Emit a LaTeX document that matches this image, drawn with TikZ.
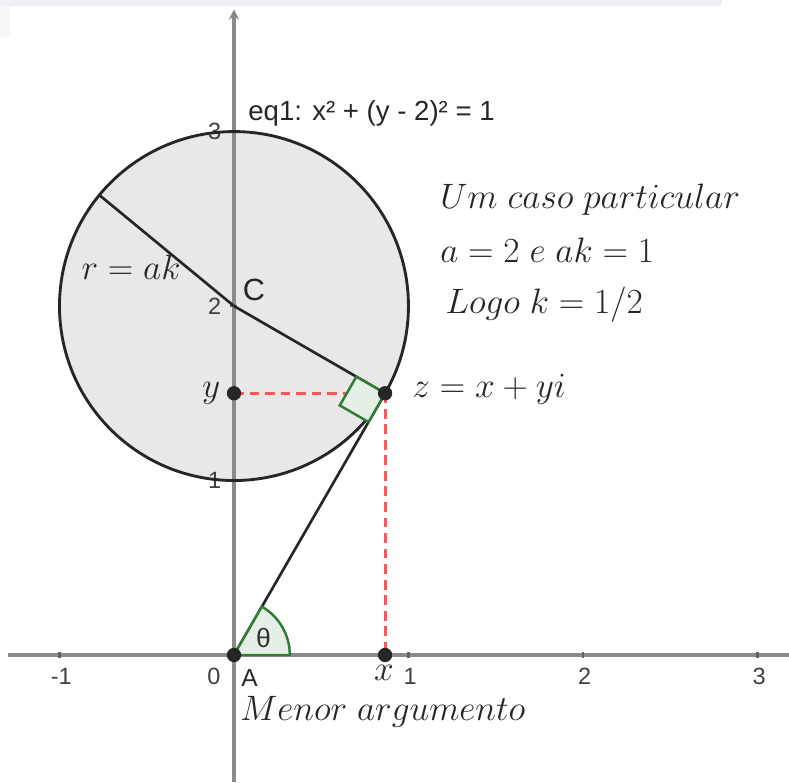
\documentclass[tikz,border=0pt]{standalone}
\usepackage{fontspec}
\newfontfamily\geofont{Liberation Sans}
\usetikzlibrary{arrows.meta, calc}
\definecolor{axisgray}{HTML}{8A8A8A}
\definecolor{discgray}{HTML}{E8E8E8}
\definecolor{geored}{HTML}{FF5555}
\definecolor{geogreen}{HTML}{2E7D32}
\definecolor{stripgray}{HTML}{EEF0F3}

\begin{document}
\begin{tikzpicture}[x=3cm, y=3cm,
        % eixos
        axis/.style={draw=axisgray, line width=1.5pt},
        tick/.style={draw=axisgray!70!black, line width=1.2pt},
        % rótulos dos eixos
        ticklbl/.style={font=\geofont\fontsize{11.5}{13}\selectfont, text=black!75},
        % segmentos e circunferência
        seg/.style={draw=black!85, line width=1.3pt},
        % projeções tracejadas
        proj/.style={draw=geored, line width=1.5pt, dash pattern=on 4.8pt off 2.8pt},
        % marcas de ângulo
        angmark/.style={draw=geogreen, line width=1.2pt, fill=geogreen!12},
        % pontos
        dot/.style={circle, fill=black!85, inner sep=0pt, minimum size=7pt},
        % textos
        mathtxt/.style={font=\fontsize{16}{19}\selectfont, text=black!85, anchor=west, inner sep=0pt},
        geolbl/.style={font=\geofont\fontsize{13.5}{15}\selectfont, text=black!85, inner sep=0pt}
    ]

    \useasboundingbox (-1.341,-0.728) rectangle (3.181,3.754);
    \fill[stripgray] (-1.341,3.72) rectangle (2.797,3.754);
    \fill[stripgray!60] (-1.341,3.54) rectangle (-1.284,3.72);

    % pontos da construção
    \coordinate (A) at (0,0);
    \coordinate (C) at (0,2);
    \coordinate (Z) at ({sqrt(3)/2},1.5);
    \coordinate (Y) at (0,1.5);
    \coordinate (X) at ({sqrt(3)/2},0);
    \coordinate (R) at ($(C)+(140.5:1)$);

    % disco
    \fill[discgray] (C) circle[radius=1];

    % eixos
    \coordinate (xl) at (-1.295,0);
    \coordinate (xr) at (3.181,0);
    \coordinate (yb) at (0,-0.728);
    \coordinate (yt) at (0,3.70);
    \draw[axis] (xl) -- (xr);
    \draw[axis, -{Stealth[length=5pt, width=5pt, fill=black!80]}] (yb) -- (yt);
    \foreach \k in {-1,1,2,3}
        \draw[tick] (\k,0.015) -- (\k,-0.02);
    \foreach \k in {1,2,3}
        \draw[tick] (-0.02,\k) -- (0.015,\k);

    \node[ticklbl] (t_m1) at (-0.99,-0.12) {-1};
    \node[ticklbl] (t_0) at (-0.115,-0.12) {0};
    \node[ticklbl] (t_1) at (1.01,-0.12) {1};
    \node[ticklbl] (t_2) at (2.01,-0.12) {2};
    \node[ticklbl] (t_3) at (3.01,-0.12) {3};
    \node[ticklbl] (ty_1) at (-0.11,1.0) {1};
    \node[ticklbl] (ty_2) at (-0.11,2.0) {2};
    \node[ticklbl] (ty_3) at (-0.11,3.0) {3};

    % circunferência e segmentos
    \draw[seg, line width=1.4pt] (C) circle[radius=1];
    \draw[seg] (R) -- (C);
    \draw[seg] (C) -- (Z);
    \draw[seg] (A) -- (Z);

    % projeções de z
    \draw[proj] (Y) -- (Z);
    \draw[proj] (Z) -- (X);

    % ângulo reto em z
    \coordinate (q1) at ($(Z)!0.19!(C)$);
    \coordinate (q2) at ($(Z)!0.1097!(A)$);
    \coordinate (q3) at ($(q1)+(q2)-(Z)$);
    \draw[angmark] (Z) -- (q1) -- (q3) -- (q2) -- cycle;

    % ângulo theta
    \draw[angmark] (A) -- (0.32,0) arc[start angle=0, end angle=60, radius=0.32] -- cycle;
    \node[font=\geofont\fontsize{13}{15}\selectfont, text=black!80] (theta) at (0.17,0.10) {θ};

    % pontos
    \node[dot] (pA) at (A) {};
    \node[dot] (pY) at (Y) {};
    \node[dot] (pZ) at (Z) {};
    \node[dot] (pX) at (X) {};

    % rótulos
    \node[geolbl, anchor=west] (eq1) at (0.08,3.106) {eq1: x² + (y - 2)² = 1};
    \node[geolbl, font=\geofont\fontsize{15}{17}\selectfont] (lC) at (0.115,2.09) {C};
    \node[geolbl, font=\geofont\fontsize{12}{14}\selectfont] (lA) at (0.09,-0.13) {A};
    \node[mathtxt, anchor=center] (lr) at (-0.59,2.22) {$r=ak$};
    \node[mathtxt, anchor=center] (ly) at (-0.13,1.5) {$y$};
    \node[mathtxt, anchor=center] (lx) at (0.86,-0.10) {$x$};
    \node[mathtxt] (lz) at (1.02,1.52) {$z=x+yi$};
    \node[mathtxt] (caso) at (1.18,2.607) {$Um\ caso\ particular$};
    \node[mathtxt] (vals) at (1.18,2.321) {$a=2\ e\ ak=1$};
    \node[mathtxt] (logo) at (1.21,2.006) {$Logo\ k=1/2$};
    \node[mathtxt] (menor) at (0.034,-0.327) {$Menor\ argumento$};

\end{tikzpicture}
\end{document}
